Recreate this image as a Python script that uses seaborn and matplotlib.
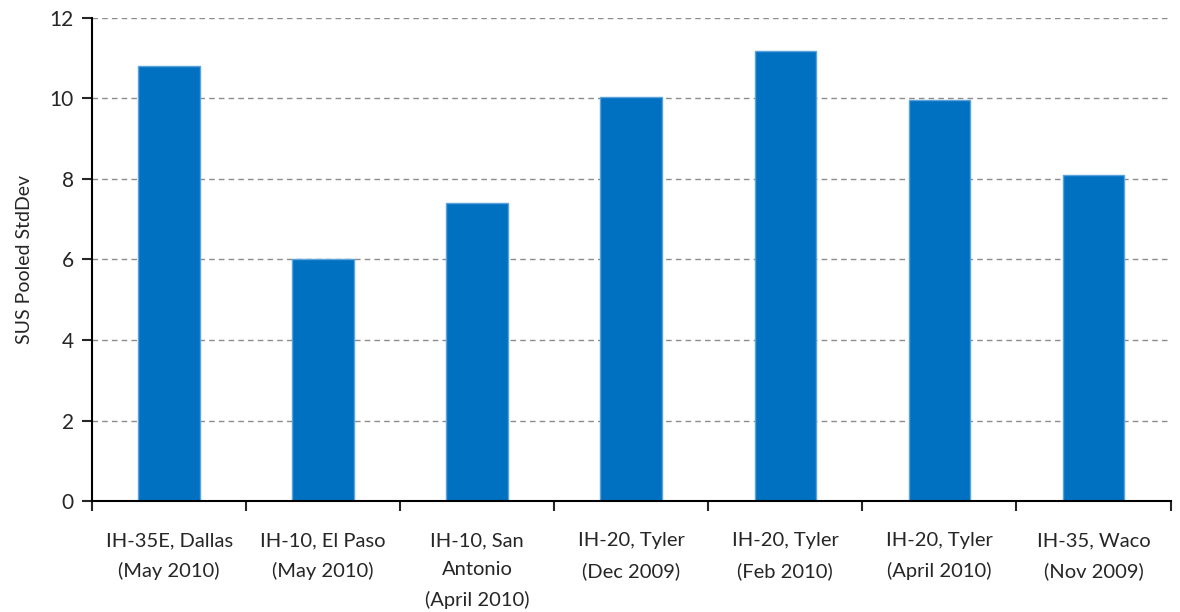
import numpy as np
import pandas as pd
import matplotlib
matplotlib.use("Agg")
import matplotlib.pyplot as plt
import seaborn as sns

sites = ["IH-35E, Dallas\n(May 2010)", "IH-10, El Paso\n(May 2010)", "IH-10, San\nAntonio\n(April 2010)",
         "IH-20, Tyler\n(Dec 2009)", "IH-20, Tyler\n(Feb 2010)", "IH-20, Tyler\n(April 2010)",
         "IH-35, Waco\n(Nov 2009)"]
stddev = [10.81, 6.0, 7.41, 10.04, 11.17, 9.97, 8.1]

df = pd.DataFrame({"site": sites, "stddev": stddev})

sns.set_style("white")
plt.rcParams["font.family"] = ["Lato", "DejaVu Sans"]

fig = plt.figure(figsize=(11.8, 6.12), dpi=100)
ax = fig.add_axes([0.078, 0.181, 0.914, 0.79])

sns.barplot(data=df, x="site", y="stddev", color="#0070C0", width=0.4,
            edgecolor="#5BA3DD", linewidth=1, saturation=1, ax=ax)

ax.set_ylim(0, 12)
ax.set_xlim(-0.5, len(sites) - 0.5)
ax.set_yticks(np.arange(0, 13, 2))
ax.yaxis.grid(True, linestyle=(0, (4, 3)), color="#8c8c8c", linewidth=1)
ax.set_axisbelow(True)

for s in ["top", "right"]:
    ax.spines[s].set_visible(False)
for s in ["left", "bottom"]:
    ax.spines[s].set_color("black")
    ax.spines[s].set_linewidth(1.5)

ax.tick_params(axis="y", which="major", left=True, length=7, width=1.5, labelsize=15, pad=6)
ax.tick_params(axis="x", which="major", bottom=False, labelsize=14.5, pad=19)
for lbl in ax.get_xticklabels():
    lbl.set_linespacing(1.85)
ax.set_xticks(np.arange(-0.5, len(sites), 1), minor=True)
ax.tick_params(axis="x", which="minor", bottom=True, length=7, width=1.5)

ax.set_xlabel("")
ax.set_ylabel("SUS Pooled StdDev", fontsize=14, labelpad=12)

fig.savefig("out.png", dpi=100)
